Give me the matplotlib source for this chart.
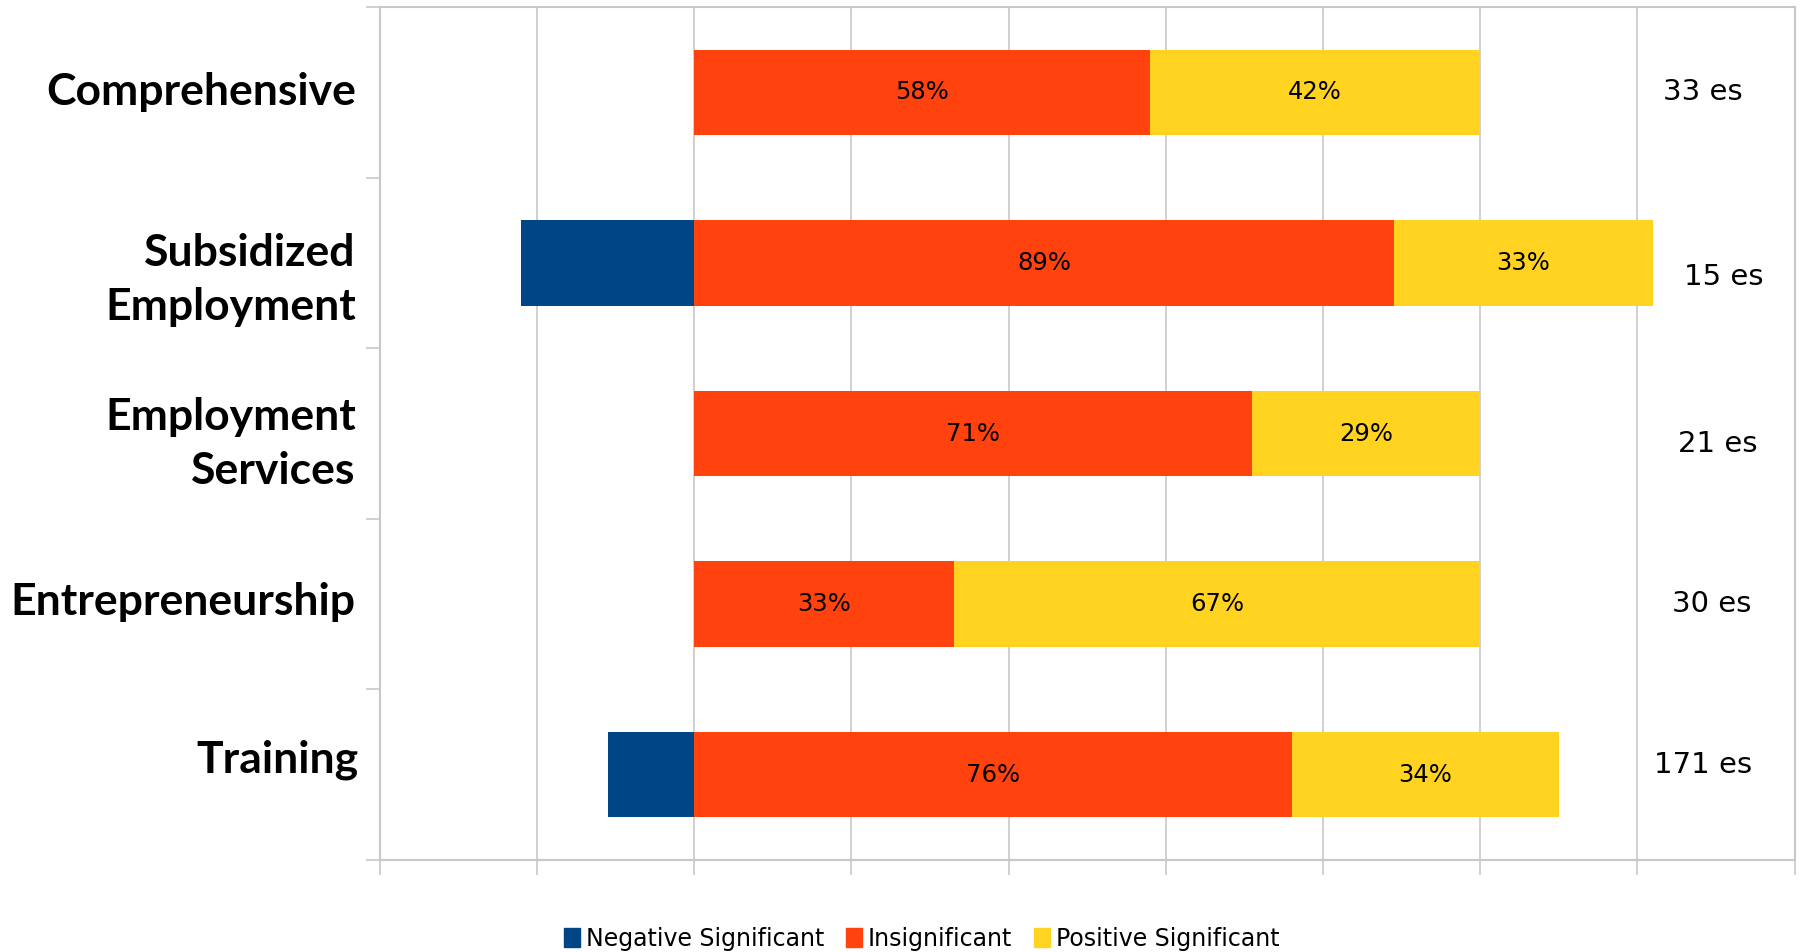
import numpy as np
import matplotlib.pyplot as plt
from matplotlib.patches import Patch
from matplotlib.transforms import ScaledTranslation

# Data
programs = ['Comprehensive', 'Subsidized\nEmployment', 'Employment\nServices',
            'Entrepreneurship', 'Training']
negative = [0, -22, 0, 0, -11]
insignificant = [58, 89, 71, 33, 76]
positive = [42, 33, 29, 67, 34]
n_es = ['33 es', '15 es', '21 es', '30 es', '171 es']

series_names = ['Negative Significant', 'Insignificant', 'Positive Significant']
colors = ['#004586', '#ff420e', '#ffd320']

# layout nudges for the side texts (data units)
es_x = [128.3, 131.0, 130.2, 129.5, 128.3]
es_dy = [0.0, 0.08, 0.06, 0.0, -0.06]
lab_dy = [0.0, 0.1, 0.06, -0.01, -0.09]
lab_dx = [0, 0, 0, 0, 3]  # pixels

grid_col = '#c8c8c8'

fig = plt.figure(figsize=(18, 9.52), dpi=100)
ax = fig.add_axes([0.211, 0.0966, 0.786, 0.896])

y = np.arange(len(programs))
ax.barh(y, negative, height=0.5, color=colors[0], zorder=3)
ax.barh(y, insignificant, height=0.5, color=colors[1], zorder=3)
ax.barh(y, positive, left=insignificant, height=0.5, color=colors[2], zorder=3)

for i in range(len(programs)):
    ax.text(insignificant[i] / 2, y[i], f'{insignificant[i]}%', ha='center', va='center',
            fontsize=17.5, zorder=4)
    ax.text(insignificant[i] + positive[i] / 2, y[i], f'{positive[i]}%', ha='center',
            va='center', fontsize=17.5, zorder=4)
    ax.text(es_x[i], y[i] + es_dy[i], n_es[i], ha='center', va='center', fontsize=21)
    shift = ScaledTranslation((lab_dx[i] - 24) / 100, 0, fig.dpi_scale_trans)
    ax.text(-40, y[i] + lab_dy[i], programs[i], ha='right', va='center',
            fontsize=32, fontweight='bold', family='Lato', linespacing=1.42,
            transform=ax.transData + shift)

ax.set_xlim(-40, 140)
ax.set_ylim(len(programs) - 0.5, -0.5)
ax.set_xticks(np.arange(-40, 141, 20))
ax.set_xticklabels([])
ax.set_yticks(np.arange(-0.5, len(programs), 1))
ax.set_yticklabels([])
ax.tick_params(axis='x', length=11, width=1.2, color=grid_col)
ax.tick_params(axis='y', length=10, width=1.2, color=grid_col)
ax.grid(axis='x', color=grid_col, linewidth=1.2, zorder=0)
ax.set_axisbelow(True)
for s in ax.spines.values():
    s.set_color(grid_col)
    s.set_linewidth(1.5)

handles = [Patch(color=c) for c in colors]
fig.legend(handles, series_names, loc='lower center', bbox_to_anchor=(0.512, -0.021),
           ncol=3, frameon=False, handlelength=0.7, handleheight=0.9, handletextpad=0.25,
           columnspacing=0.9, prop={'family': ['Liberation Sans Narrow', 'DejaVu Sans'], 'size': 17})

fig.savefig('out.png', dpi=100)
